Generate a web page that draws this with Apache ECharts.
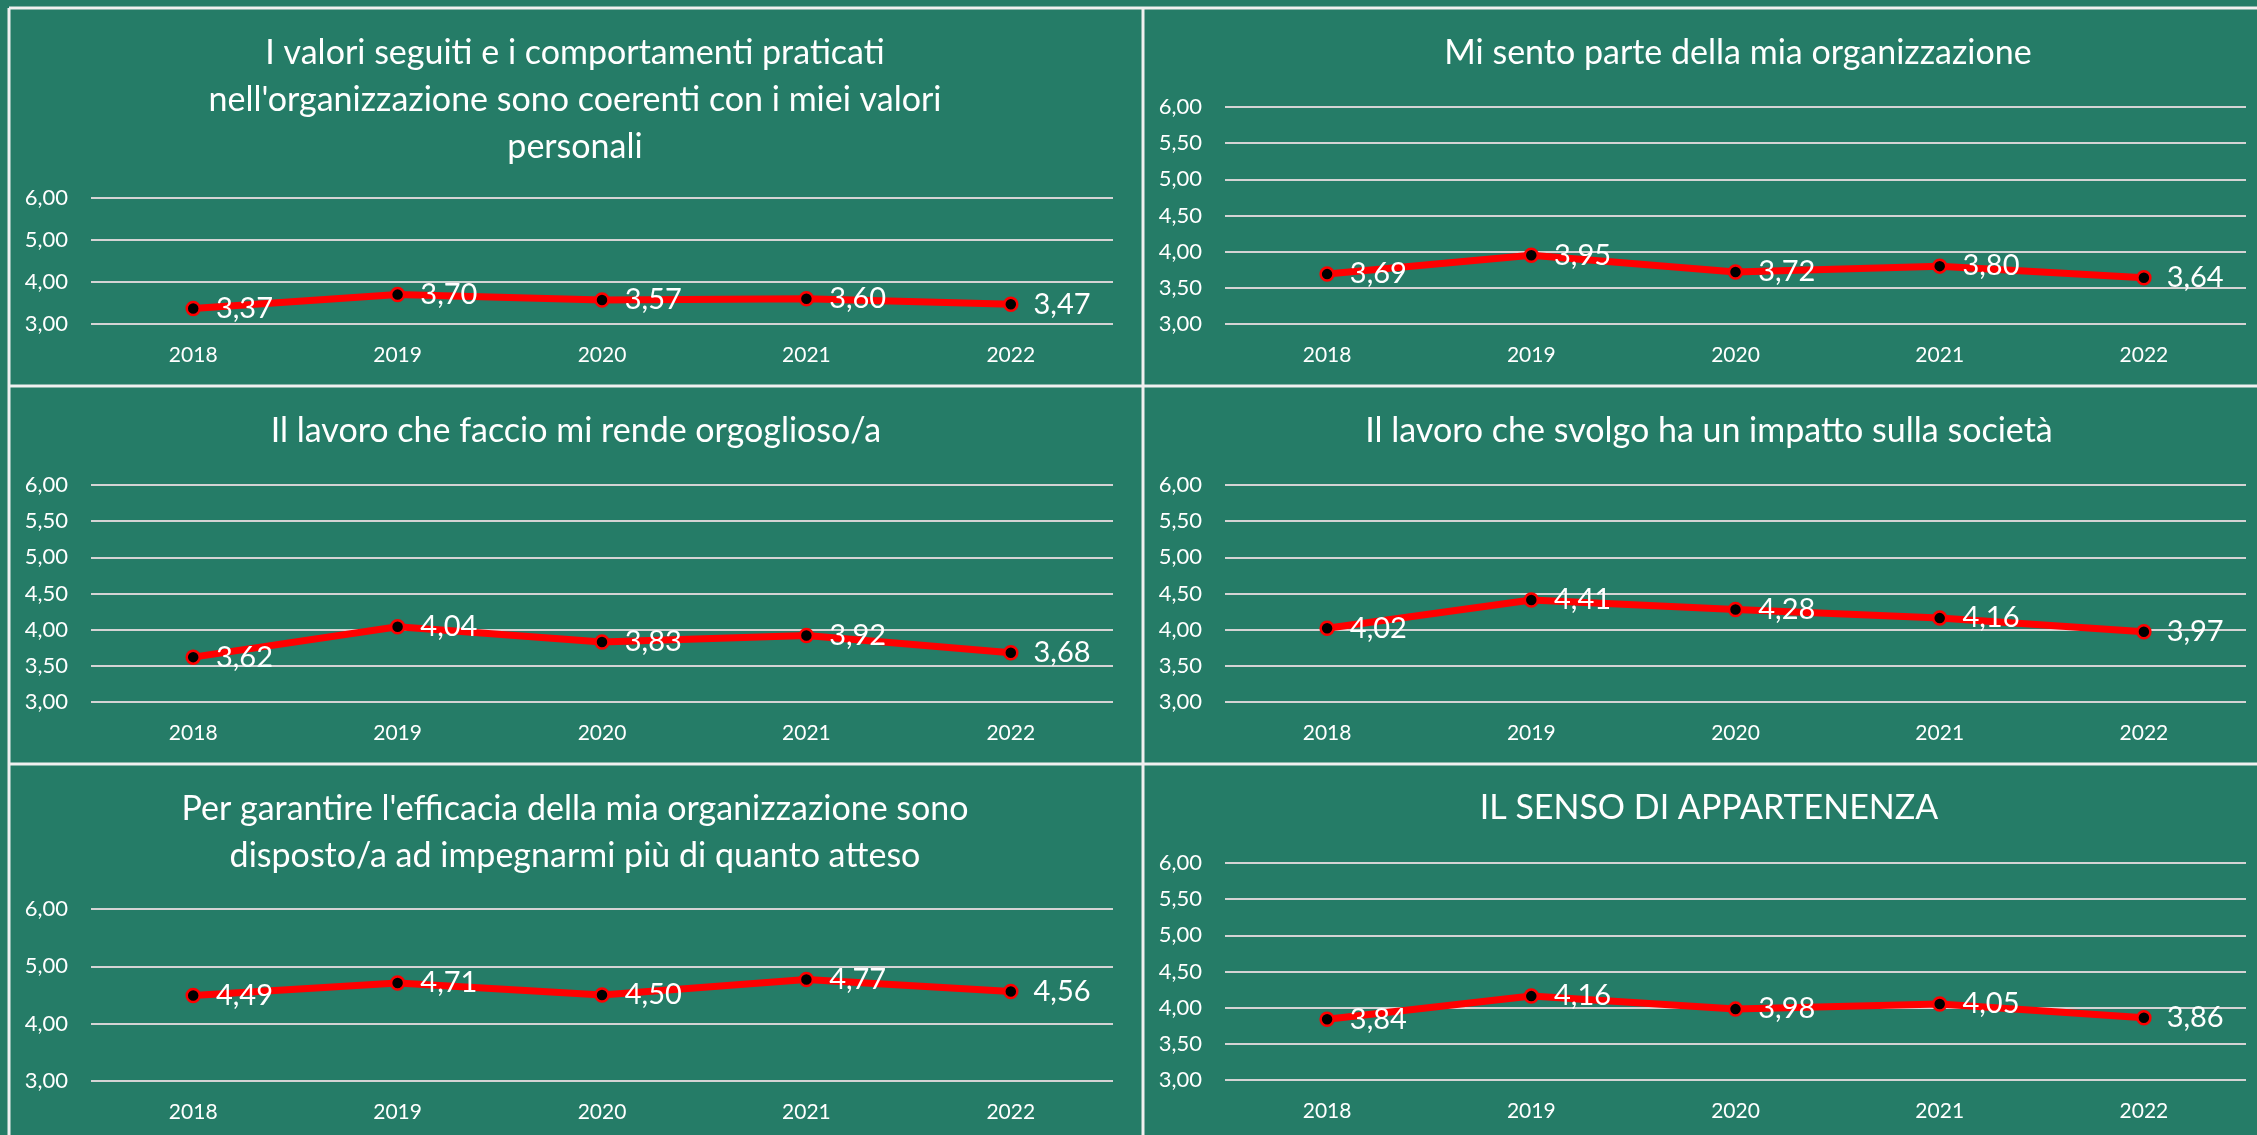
<!DOCTYPE html>
<html>
<head>
<meta charset="utf-8">
<script src="https://cdn.jsdelivr.net/npm/echarts@6/dist/echarts.min.js"></script>
<style>
  html, body { margin: 0; padding: 0; background: #257C67; }
  #chart { width: 2257px; height: 1135px; }
</style>
</head>
<body>
<div id="chart"></div>
<script>
// Survey years shared by every panel
const years = ['2018', '2019', '2020', '2021', '2022'];

// Average scores per statement
const valoriCoerenti = [3.37, 3.70, 3.57, 3.60, 3.47];
const sentoParte = [3.69, 3.95, 3.72, 3.80, 3.64];
const lavoroOrgoglioso = [3.62, 4.04, 3.83, 3.92, 3.68];
const impattoSocieta = [4.02, 4.41, 4.28, 4.16, 3.97];
const impegnoEfficacia = [4.49, 4.71, 4.50, 4.77, 4.56];
const sensoAppartenenza = [3.84, 4.16, 3.98, 4.05, 3.86];

// Panel titles
const titles = [
  "I valori seguiti e i comportamenti praticati\nnell'organizzazione sono coerenti con i miei valori\npersonali",
  "Mi sento parte della mia organizzazione",
  "Il lavoro che faccio mi rende orgoglioso/a",
  "Il lavoro che svolgo ha un impatto sulla società",
  "Per garantire l'efficacia della mia organizzazione sono\ndisposto/a ad impegnarmi più di quanto atteso",
  "IL SENSO DI APPARTENENZA"
];

// Y axis range and step of each panel
const axisMin = 3;
const axisMax = 6;
const axisSteps = [1, 0.5, 0.5, 0.5, 1, 0.5];

const seriesData = [valoriCoerenti, sentoParte, lavoroOrgoglioso, impattoSocieta, impegnoEfficacia, sensoAppartenenza];

// Panel geometry: plot rectangle and title anchor
const panels = [
  { grid: { left: 91, top: 198, width: 1022, height: 126 }, titleX: 575, titleTop: 30 },
  { grid: { left: 1225, top: 107, width: 1021, height: 217 }, titleX: 1738, titleTop: 30 },
  { grid: { left: 91, top: 485, width: 1022, height: 217 }, titleX: 576, titleTop: 408 },
  { grid: { left: 1225, top: 485, width: 1021, height: 217 }, titleX: 1709, titleTop: 408 },
  { grid: { left: 91, top: 909, width: 1022, height: 172 }, titleX: 575, titleTop: 786 },
  { grid: { left: 1225, top: 863, width: 1021, height: 217 }, titleX: 1709, titleTop: 785 }
];

const FONT = 'Lato';
const comma = v => Number(v).toFixed(2).replace('.', ',');

const option = {
  backgroundColor: '#257C67',
  animation: false,
  textStyle: { fontFamily: FONT },
  title: panels.map((p, i) => ({
    text: titles[i],
    left: p.titleX,
    top: p.titleTop,
    textAlign: 'center',
    padding: 0,
    textStyle: {
      color: '#ffffff',
      fontFamily: FONT,
      fontWeight: 'normal',
      fontSize: 34,
      lineHeight: 47
    }
  })),
  grid: panels.map(p => Object.assign({ containLabel: false }, p.grid)),
  xAxis: panels.map((p, i) => ({
    type: 'category',
    gridIndex: i,
    data: years,
    boundaryGap: true,
    axisLine: { show: false },
    axisTick: { show: false },
    axisLabel: { color: '#ffffff', fontSize: 21, fontFamily: FONT, margin: 21 }
  })),
  yAxis: panels.map((p, i) => ({
    type: 'value',
    gridIndex: i,
    min: axisMin,
    max: axisMax,
    interval: axisSteps[i],
    axisLine: { show: false },
    axisTick: { show: false },
    axisLabel: { color: '#ffffff', fontSize: 22, fontFamily: FONT, margin: 23, formatter: comma },
    splitLine: { show: true, lineStyle: { color: '#d4d4d4', width: 2 } }
  })),
  series: seriesData.map((d, i) => ({
    type: 'line',
    xAxisIndex: i,
    yAxisIndex: i,
    data: d,
    symbol: 'circle',
    symbolSize: 13,
    lineStyle: { color: '#ff0000', width: 7 },
    itemStyle: { color: '#000000', borderColor: '#ff0000', borderWidth: 2.5 },
    label: {
      show: true,
      position: 'right',
      distance: 15,
      color: '#ffffff',
      fontSize: 29,
      fontFamily: FONT,
      formatter: p => comma(p.value)
    },
    z: 3
  })),
  // White separators between the six panels
  graphic: [
    { type: 'line', shape: { x1: 9, y1: 8, x2: 2257, y2: 8 }, style: { stroke: '#f0f0f0', lineWidth: 3 } },
    { type: 'line', shape: { x1: 9, y1: 386, x2: 2257, y2: 386 }, style: { stroke: '#f0f0f0', lineWidth: 3 } },
    { type: 'line', shape: { x1: 9, y1: 764, x2: 2257, y2: 764 }, style: { stroke: '#f0f0f0', lineWidth: 3 } },
    { type: 'line', shape: { x1: 9, y1: 8, x2: 9, y2: 1135 }, style: { stroke: '#f0f0f0', lineWidth: 3 } },
    { type: 'line', shape: { x1: 1143, y1: 8, x2: 1143, y2: 1135 }, style: { stroke: '#f0f0f0', lineWidth: 3 } }
  ]
};

const chart = echarts.init(document.getElementById('chart'), null, { renderer: 'canvas' });
chart.setOption(option);
</script>
</body>
</html>
